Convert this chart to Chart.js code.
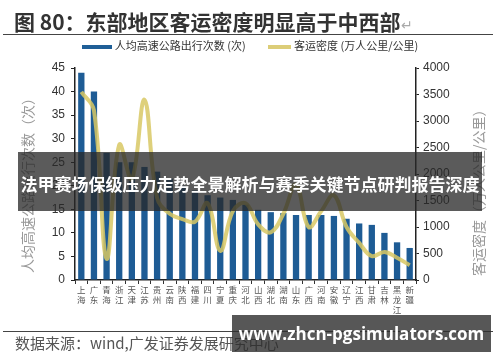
<!DOCTYPE html>
<html>
<head>
<meta charset="utf-8">
<script src="https://cdn.jsdelivr.net/npm/chart.js@4.4.1/dist/chart.umd.min.js"></script>
<style>
  body { margin: 0; background: #fff; font-family: "Noto Sans CJK SC", "Liberation Sans", sans-serif; }
  #page { position: relative; width: 500px; height: 362px; overflow: hidden; }
  #chart { position: absolute; left: 0; top: 0; }
  .abs { position: absolute; white-space: nowrap; }
  #title { left: 14px; top: 6px; font-size: 21px; font-weight: bold; color: #333; line-height: 30px; }
  #title .ret { font-weight: normal; color: #aaa; font-size: 14px; }
  .rule { left: 3px; width: 490px; height: 1px; background: #444; }
  #legend { left: 0; top: 38px; width: 500px; text-align: center; font-size: 11px; color: #333; line-height: 14px; }
  #legend .key { display: inline-block; vertical-align: middle; height: 4px; margin-right: 3px; }
  #legend .item { display: inline-block; margin: 0 10px; }
  .axtitle { font-size: 14px; color: #999; transform: rotate(-90deg); transform-origin: center center; text-align: center; }
  #source { left: 15px; top: 333px; font-size: 15px; color: #555; line-height: 20px; }
  #banner { left: 18px; top: 152px; width: 464px; height: 59px; background: rgba(40,40,40,0.76); color: #fff;
            font-size: 17px; font-weight: bold; text-align: center; line-height: 64px; }
  #mark { left: 232px; top: 315px; width: 259px; height: 37px; background: rgba(45,45,45,0.8); color: #fff;
          font-family: "Open Sans", "Liberation Sans", sans-serif; font-size: 17px; font-weight: bold; text-align: center; line-height: 37px; }
</style>
</head>
<body>
<div id="page">
  <canvas id="chart" width="500" height="362"></canvas>
  <div id="title" class="abs">图 80：东部地区客运密度明显高于中西部<span class="ret">↵</span></div>
  <div class="abs rule" style="top:34px"></div>
  <div id="legend" class="abs">
    <span class="item"><span class="key" style="width:30px;background:#1f5f97"></span>人均高速公路出行次数 (次)</span>
    <span class="item"><span class="key" style="width:23px;background:#dccd78"></span>客运密度 (万人公里/公里)</span>
  </div>
  <div class="abs axtitle" style="left:-66px;top:172px;width:186px">人均高速公路出行次数（次）</div>
  <div class="abs axtitle" style="left:392px;top:180px;width:172px">客运密度（万人公里/公里）</div>
  <div class="abs rule" style="top:331px"></div>
  <div id="source" class="abs">数据来源：wind,广发证券发展研究中心</div>
  <div id="banner" class="abs">法甲赛场保级压力走势全景解析与赛季关键节点研判报告深度</div>
  <div id="mark" class="abs">www.zhcn-pgsimulators.com</div>
</div>
<script>
// provinces, sorted by trips per person
var provinces = ['上海','广东','青海','浙江','天津','江苏','贵州','云南','陕西','福建','四川','宁夏','重庆','河北',
                 '山西','湖北','湖南','山东','广西','河南','安徽','辽宁','江西','甘肃','吉林','黑龙江','新疆'];
// 人均高速公路出行次数 (次) - left axis
var tripsPerCapita = [44, 40, 27, 25, 25, 24, 23, 21.5, 20, 19, 18, 17.5, 17, 16,
                      14.9, 14.4, 14.2, 13.8, 13.8, 13.8, 13.6, 13, 12, 11.7, 10, 8, 6.8];
// 客运密度 (万人公里/公里) - right axis
var passengerDensity = [3550, 3200, 400, 2550, 1900, 3400, 1550, 1250, 1150, 1100, 1450, 550, 1300, 1450,
                        1050, 900, 1250, 1800, 1000, 1300, 1600, 1000, 700, 450, 530, 420, 280];
var leftMax = 45, leftStep = 5;
var rightMax = 4000, rightStep = 500;

var tickFont = { family: '"Liberation Sans", Arial, sans-serif', size: 12 };
var plain = function (v) { return String(v); };

new Chart(document.getElementById('chart'), {
  type: 'bar',
  data: {
    labels: provinces.map(function (p) { return p.split(''); }),
    datasets: [{
      type: 'bar',
      label: '人均高速公路出行次数 (次)',
      data: tripsPerCapita,
      backgroundColor: '#1e5c95',
      yAxisID: 'y',
      order: 2,
      categoryPercentage: 1,
      barPercentage: 0.5
    }, {
      type: 'line',
      label: '客运密度 (万人公里/公里)',
      data: passengerDensity,
      borderColor: 'rgba(216,200,100,0.85)',
      borderWidth: 4,
      pointRadius: 0,
      tension: 0.4,
      yAxisID: 'y1',
      order: 1
    }]
  },
  options: {
    responsive: false,
    animation: false,
    layout: { padding: { top: 68, bottom: 42, left: 0, right: 0 } },
    plugins: { legend: { display: false }, tooltip: { enabled: false } },
    scales: {
      x: {
        grid: { drawOnChartArea: false, tickLength: 4, color: '#333' },
        border: { color: '#222', width: 1.5 },
        ticks: { autoSkip: false, maxRotation: 0, minRotation: 0, padding: 1, color: '#555',
                 font: { family: '"Noto Sans CJK SC", sans-serif', size: 8.5, lineHeight: 1.15 } },
        afterFit: function (s) { s.height = 40; }
      },
      y: {
        position: 'left', min: 0, max: leftMax,
        ticks: { stepSize: leftStep, color: '#333', font: tickFont, padding: 6, callback: plain },
        grid: { drawOnChartArea: false, tickLength: 4, color: '#222' },
        border: { color: '#222', width: 1.5 },
        afterFit: function (s) { s.width = 75; }
      },
      y1: {
        position: 'right', min: 0, max: rightMax,
        ticks: { stepSize: rightStep, color: '#333', font: tickFont, padding: 4, callback: plain },
        grid: { drawOnChartArea: false, tickLength: 3, color: '#222' },
        border: { color: '#222', width: 1.5 },
        afterFit: function (s) { s.width = 84; }
      }
    }
  }
});
</script>
</body>
</html>
